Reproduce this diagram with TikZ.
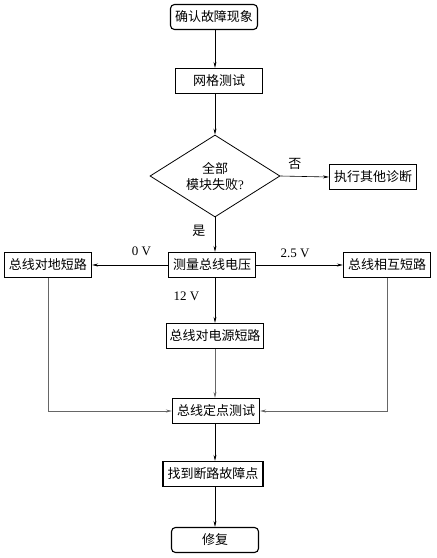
\documentclass[tikz,border=0pt]{standalone}
\usepackage{fontspec}
\setmainfont{Liberation Serif}
\newfontfamily\cjk{Noto Sans CJK SC}
\usetikzlibrary{shapes.geometric,arrows.meta}
\begin{document}
\begin{tikzpicture}[x=1pt,y=-1pt,
  box/.style={draw,line width=1.1pt,minimum width=87pt,minimum height=25pt,inner xsep=2.5pt,inner ysep=2pt,font=\cjk\fontsize{13}{14}\selectfont},
  rbox/.style={box,rounded corners=4pt},
  dia/.style={draw,line width=0.8pt,diamond,aspect=1.6,minimum width=130pt,minimum height=82pt,inner sep=0pt,align=center,font=\cjk\fontsize{13}{16}\selectfont},
  arr/.style={draw,line width=0.6pt,-{Stealth[length=6pt,width=3pt]}},
  garr/.style={arr,draw=black!60},
  lbl/.style={font=\fontsize{13}{14}\selectfont},
  clbl/.style={font=\cjk\fontsize{13}{14}\selectfont}]
\useasboundingbox (0,0) rectangle (437,558);
\node[rbox] (start) at (214,17) {确认故障现象};
\node[box] (grid) at (219,81) {网格测试};
\node[dia] (dec) at (215,176) {全部\\模块失败{\rmfamily ?}};
\node[box] (other) at (373,177) {执行其他诊断};
\node[box] (meas) at (212,265) {测量总线电压};
\node[box] (gnd) at (48,265) {总线对地短路};
\node[box] (mut) at (387,265) {总线相互短路};
\node[box,minimum width=97pt] (pwr) at (215,336) {总线对电源短路};
\node[box] (spot) at (216,411) {总线定点测试};
\node[box,minimum width=100pt] (find) at (213,474) {找到断路故障点};
\node[rbox] (fix) at (215,540) {修复};
\coordinate (gc) at (gnd.south |- spot.west);
\coordinate (mc) at (mut.south |- spot.east);
\draw[arr] (start.south -| 215,0) -- (grid.north -| 215,0);
\draw[arr] (grid.south -| 215,0) -- (dec.north);
\draw[arr] (dec.east) -- node[clbl,above=3pt,pos=0.3] (no) {否} (other.west);
\draw[arr] (dec.south) -- node[clbl,left=6pt,pos=0.4] (yes) {是} (meas.north -| dec.south);
\draw[arr] (meas.west) -- node[lbl,above=6pt,pos=0.35] (v0) {0 V} (gnd.east);
\draw[arr] (meas.east) -- node[lbl,above=4pt,pos=0.45] (v25) {2.5 V} (mut.west);
\draw[arr] (meas.south -| pwr.north) -- node[lbl,left=12pt,pos=0.4] (v12) {12 V} (pwr.north);
\draw[garr] (pwr.south) -- (spot.north -| pwr.south);
\draw[garr] (gnd.south) -- (gc) -- (spot.west);
\draw[garr] (mut.south) -- (mc) -- (spot.east);
\draw[arr] (spot.south -| 215,0) -- (find.north -| 215,0);
\draw[arr] (find.south -| 215,0) -- (fix.north -| 215,0);
\end{tikzpicture}
\end{document}
